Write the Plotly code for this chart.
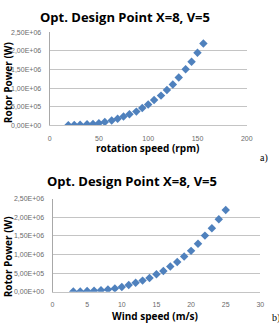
import plotly.graph_objects as go

W, H = 279, 331

wind_speed = [3, 4, 5, 6, 7, 8, 9, 10, 11, 12, 13, 14, 15, 16, 17, 18, 19, 20, 21, 22, 23, 24, 25]
rotation_speed = [19, 25, 31, 38, 44, 50, 56, 63, 69, 75, 81, 88, 94, 100, 106, 113, 119, 125, 131, 138, 144, 150, 156]
rotor_power = [0.005e6, 0.01e6, 0.02e6, 0.03e6, 0.04e6, 0.06e6, 0.09e6, 0.13e6, 0.18e6, 0.24e6, 0.30e6,
               0.37e6, 0.47e6, 0.56e6, 0.68e6, 0.80e6, 0.95e6, 1.10e6, 1.29e6, 1.51e6, 1.71e6, 1.95e6, 2.20e6]

y_tickvals = [0, 5e5, 1e6, 1.5e6, 2e6, 2.5e6]
y_ticktext = ["0,00E+00", "5,00E+05", "1,00E+06", "1,50E+06", "2,00E+06", "2,50E+06"]
x1_ticks = [0, 50, 100, 150, 200]
x2_ticks = [0, 5, 10, 15, 20, 25, 30]

title_text = "Opt. Design Point X=8, V=5"
ytitle = "Rotor Power (W)"
x1_title = "rotation speed (rpm)"
x2_title = "Wind speed (m/s)"

blue = "#4F81BD"
font_main = "Open Sans"

def px_x(p):
    return p / W

def px_y(p):
    return 1 - p / H

fig = go.Figure()
fig.add_trace(go.Scatter(x=rotation_speed, y=rotor_power, mode="markers",
                         marker=dict(symbol="diamond", size=6.5, color=blue),
                         xaxis="x", yaxis="y", showlegend=False))
fig.add_trace(go.Scatter(x=wind_speed, y=rotor_power, mode="markers",
                         marker=dict(symbol="diamond", size=6.5, color=blue),
                         xaxis="x2", yaxis="y2", showlegend=False))

tickfont = dict(family="Liberation Sans", size=7, color="#6b6b6b")
common_y = dict(range=[0, 2.5e6], tickvals=y_tickvals, ticktext=y_ticktext, showgrid=True,
                gridcolor="#C4C4C4", gridwidth=1, showline=True, linecolor="#A8A8A8",
                ticks="", ticklabelstandoff=6, tickfont=tickfont, zeroline=False)
common_x = dict(showgrid=False, showline=True, linecolor="#C4C4C4", ticks="",
                ticklabelstandoff=6, tickfont=tickfont, zeroline=False)

fig.update_layout(
    width=W, height=H, margin=dict(l=0, r=0, t=0, b=0),
    paper_bgcolor="white", plot_bgcolor="white",
    xaxis=dict(domain=[px_x(49), px_x(252)], range=[0, 200], tickvals=x1_ticks, anchor="y", **common_x),
    yaxis=dict(domain=[px_y(124), px_y(29)], anchor="x", **common_y),
    xaxis2=dict(domain=[px_x(52), px_x(266)], range=[0, 30], tickvals=x2_ticks, anchor="y2", **common_x),
    yaxis2=dict(domain=[px_y(294), px_y(199)], anchor="x2", **common_y),
)

ann = []
title_font = dict(family=font_main, size=13, color="black")
axis_font = dict(family=font_main, size=10, color="black")
ann.append(dict(text="<b>%s</b>" % title_text, x=px_x(127), y=px_y(13), font=title_font))
ann.append(dict(text="<b>%s</b>" % title_text, x=px_x(134), y=px_y(181), font=title_font))
ann.append(dict(text="<b>%s</b>" % x1_title, x=px_x(150), y=px_y(147), font=axis_font))
ann.append(dict(text="<b>%s</b>" % x2_title, x=px_x(158), y=px_y(319), font=axis_font))
ann.append(dict(text="<b>%s</b>" % ytitle, x=px_x(6), y=px_y(80), font=axis_font, textangle=-90))
ann.append(dict(text="<b>%s</b>" % ytitle, x=px_x(6), y=px_y(258), font=axis_font, textangle=-90))
ann.append(dict(text="a)", x=px_x(270), y=px_y(157), font=dict(family="Liberation Serif", size=10, color="black")))
ann.append(dict(text="b)", x=px_x(282), y=px_y(321), font=dict(family="Liberation Serif", size=10, color="black")))
for a in ann:
    a.update(xref="paper", yref="paper", showarrow=False, xanchor="center", yanchor="middle")
fig.update_layout(annotations=ann)

fig.write_html("out.html")
